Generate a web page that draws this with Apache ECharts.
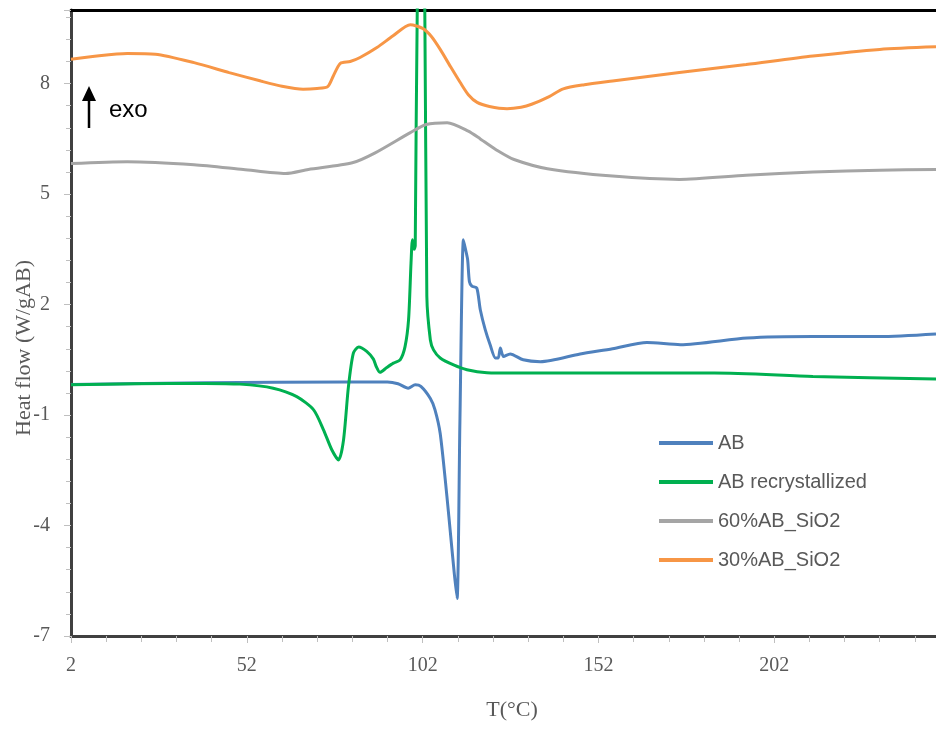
<!DOCTYPE html>
<html>
<head>
<meta charset="utf-8">
<script src="https://cdn.jsdelivr.net/npm/echarts@6/dist/echarts.min.js"></script>
<style>
  html, body { margin: 0; padding: 0; background: #fff; }
  #chart { width: 936px; height: 729px; }
</style>
</head>
<body>
<div id="chart"></div>
<script>
// [T (°C), heat flow (W/gAB)]
var seriesNames = ['AB', 'AB recrystallized', '60%AB_SiO2', '30%AB_SiO2'];
var colors = ['#4F81BD', '#00B050', '#A5A5A5', '#F79646'];

var abData = [
  [2, -0.17], [40, -0.12], [80, -0.1], [92, -0.1], [95, -0.15], [97.9, -0.27],
  [99.9, -0.18], [101.5, -0.22], [104.2, -0.55], [105.5, -0.85], [107, -1.5],
  [108.9, -3.2], [110, -4.3], [111, -5.3], [111.8, -5.98], [112.6, -1.2],
  [113.6, 3.76], [114.2, 3.5], [114.8, 3.22], [115.3, 2.63], [116, 2.5],
  [117.4, 2.45], [118.4, 1.86], [119.8, 1.32], [121.2, 0.91], [122.7, 0.55],
  [123.5, 0.55], [124.1, 0.82], [125, 0.59], [126.9, 0.66], [130.6, 0.5],
  [135.5, 0.45], [146.8, 0.66], [156, 0.8], [165.8, 0.97], [175.3, 0.91],
  [194.3, 1.09], [213, 1.13], [232, 1.13], [248, 1.2]
];

var abRecData = [
  [2, -0.18], [20, -0.15], [40, -0.14], [50, -0.16], [59.5, -0.27], [66.2, -0.5],
  [71, -0.86], [73.8, -1.4], [76.2, -1.95], [78.1, -2.22], [79.5, -1.68],
  [80.9, -0.23], [82.3, 0.68], [83.8, 0.85], [86.1, 0.73], [88, 0.52],
  [88.8, 0.32], [89.9, 0.16], [91.8, 0.29], [93.7, 0.41], [95.6, 0.5],
  [97, 0.86], [98, 1.59], [98.7, 3.13], [99.1, 3.76], [99.6, 3.5], [99.9, 3.6],
  [100.5, 10.3], [101.6, 13], [102.6, 10.3], [103.2, 2.22], [104.2, 1.04],
  [105.1, 0.77], [107, 0.55], [110.8, 0.36], [114.6, 0.23], [120.3, 0.15],
  [128, 0.14], [147, 0.14], [185, 0.14], [213, 0.05], [248, -0.02]
];

var sio60Data = [
  [2, 5.83], [18, 5.88], [37, 5.8], [51, 5.67], [63, 5.56], [69.5, 5.67],
  [82, 5.85], [88.5, 6.12], [98.5, 6.67], [103, 6.89], [109, 6.94], [115, 6.71],
  [118.4, 6.5], [123.5, 6.17], [128, 5.94], [137.5, 5.69], [156, 5.49],
  [175, 5.4], [194, 5.51], [213, 5.6], [232, 5.65], [248, 5.67]
];

var sio30Data = [
  [2, 8.66], [10, 8.76], [18, 8.82], [26, 8.8], [37, 8.57], [47, 8.3],
  [56, 8.07], [62, 7.93], [68, 7.85], [72, 7.87], [75, 7.92], [76.6, 8.21],
  [78.6, 8.55], [81.4, 8.6], [84.2, 8.71], [89, 8.98], [93.6, 9.3], [98.5, 9.6],
  [102, 9.5], [104.5, 9.28], [107, 8.93], [110, 8.45], [112.7, 8.03],
  [115, 7.7], [117.5, 7.49], [121, 7.38], [126, 7.32], [130, 7.36], [133, 7.44],
  [138, 7.65], [142, 7.86], [148, 7.97], [156, 8.07], [175, 8.3], [194, 8.52],
  [213, 8.75], [232, 8.93], [248, 9.0]
];

var allData = [abData, abRecData, sio60Data, sio30Data];

var chart = echarts.init(document.getElementById('chart'));

var serif = '"Liberation Serif", "Times New Roman", serif';
var sans = '"Liberation Sans", Arial, sans-serif';

var series = [];
for (var i = 0; i < seriesNames.length; i++) {
  series.push({
    name: seriesNames[i],
    type: 'line',
    data: allData[i],
    showSymbol: false,
    smooth: 0.25,
    color: colors[i],
    lineStyle: { width: 3, color: colors[i] }
  });
}

var option = {
  animation: false,
  backgroundColor: '#fff',
  grid: { left: 71, right: 0, top: 10, bottom: 93, outerBoundsMode: 'none', containLabel: false },
  legend: {
    orient: 'vertical',
    left: 659,
    top: 433,
    padding: 0,
    icon: 'rect',
    itemWidth: 54,
    itemHeight: 4,
    itemGap: 19,
    textStyle: { fontFamily: sans, fontSize: 20, color: '#595959' },
    data: seriesNames
  },
  xAxis: [{
    type: 'value',
    min: 2,
    max: 248,
    interval: 50,
    name: 'T(°C)',
    nameLocation: 'middle',
    nameGap: 63,
    nameMoveOverlap: false,
    nameTextStyle: { fontFamily: serif, fontSize: 22, color: '#595959', padding: [0, 0, 0, 17] },
    axisLine: { onZero: false, lineStyle: { color: '#404040', width: 3 } },
    axisTick: { show: true, length: 7, lineStyle: { color: '#bfbfbf', width: 1 } },
    minorTick: { show: true, splitNumber: 5, length: 6, lineStyle: { color: '#bfbfbf', width: 1 } },
    axisLabel: { fontFamily: serif, fontSize: 20, color: '#595959', margin: 20, showMaxLabel: false },
    splitLine: { show: false }
  }, {
    type: 'value',
    position: 'top',
    min: 2,
    max: 248,
    axisLine: { show: true, onZero: false, lineStyle: { color: '#000', width: 3 } },
    axisTick: { show: false },
    axisLabel: { show: false },
    splitLine: { show: false }
  }],
  yAxis: {
    type: 'value',
    min: -7,
    max: 10,
    interval: 3,
    name: 'Heat flow (W/gAB)',
    nameLocation: 'middle',
    nameGap: 36,
    nameMoveOverlap: false,
    nameTextStyle: { fontFamily: serif, fontSize: 22, color: '#595959', padding: [0, 50, 0, 0] },
    axisLine: { show: true, onZero: false, lineStyle: { color: '#404040', width: 3 } },
    axisTick: { show: true, length: 7, lineStyle: { color: '#bfbfbf', width: 1 } },
    minorTick: { show: true, splitNumber: 5, length: 5, lineStyle: { color: '#bfbfbf', width: 1 } },
    axisLabel: { fontFamily: serif, fontSize: 20, color: '#595959', margin: 21, showMaxLabel: false },
    splitLine: { show: false }
  },
  graphic: [
    // "exo" arrow
    { type: 'line', shape: { x1: 89, y1: 128, x2: 89, y2: 98 }, style: { stroke: '#000', lineWidth: 2.5 } },
    { type: 'polygon', shape: { points: [[89, 86], [82, 101], [96, 101]] }, style: { fill: '#000' } },
    { type: 'text', left: 109, top: 98, style: { text: 'exo', fontFamily: sans, fontSize: 24, fill: '#000' } }
  ],
  series: series
};

chart.setOption(option);
</script>
</body>
</html>
